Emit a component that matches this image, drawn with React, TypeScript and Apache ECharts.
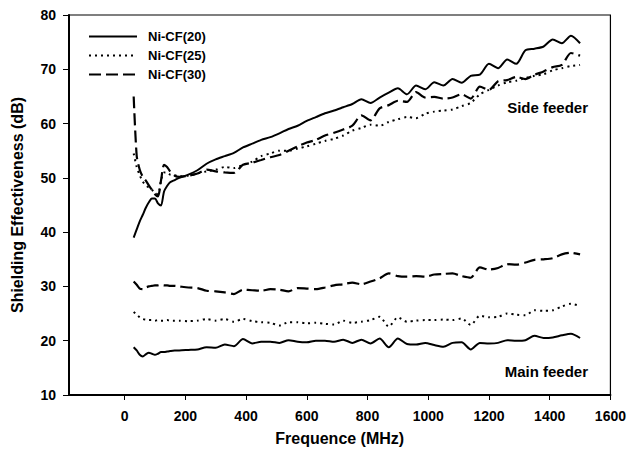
import React, { useEffect, useRef } from "react";
import * as echarts from "echarts";

const freqs = [
  30, 40, 50, 60, 70, 80, 90, 100, 110, 120, 130, 140, 150, 165,
  180, 210, 240, 270, 300, 330, 360, 390, 420, 450, 480, 510, 540, 570, 600,
  630, 660, 690, 720, 750, 780, 810, 840, 870, 900, 930, 960, 990, 1020, 1050,
  1080, 1110, 1140, 1170, 1200, 1230, 1260, 1290, 1320, 1350, 1380, 1410, 1440,
  1470, 1500,
];

// Side feeder
const side20 = [
  39.0, 40.5, 42.0, 43.2, 44.5, 45.5, 46.2, 46.2, 45.3, 44.9, 47.5, 48.5, 49.2, 49.6,
  50.0, 50.6, 51.4, 52.6, 53.4, 54.0, 54.6, 55.6, 56.3, 57.0, 57.5, 58.2, 59.0, 59.6, 60.5,
  61.2, 61.9, 62.4, 63.0, 63.6, 64.5, 63.8, 64.8, 65.7, 66.5, 65.4, 67.0, 66.3, 67.6, 67.0,
  68.2, 67.5, 68.8, 69.0, 71.0, 70.2, 71.8, 71.0, 73.5, 73.8, 74.2, 75.5, 74.8,
  76.2, 74.8,
];
const side25 = [
  54.5, 52.0, 50.5, 49.3, 48.6, 48.2, 47.8, 47.2, 47.0, 49.5, 51.0, 51.0, 50.6, 50.5,
  50.3, 50.4, 50.8, 51.2, 51.5, 52.0, 51.8, 52.4, 53.0, 54.0, 54.5, 55.0, 55.0, 55.4, 55.8,
  56.3, 56.8, 57.2, 57.8, 58.7, 59.2, 59.8, 59.6, 60.3, 60.8, 61.2, 61.0, 61.8, 62.2, 62.4,
  62.6, 63.2, 63.8, 65.4, 66.2, 67.0, 67.6, 67.9, 68.4, 68.8, 69.1, 69.8, 70.2,
  70.6, 70.8,
];
const side30 = [
  65.0, 54.0, 51.5, 50.2, 49.5, 48.6, 47.8, 47.0, 46.6, 49.5, 52.4, 52.0, 51.2, 50.4,
  50.2, 50.4, 50.8, 51.5, 51.2, 51.0, 50.9, 52.4, 52.8, 53.3, 53.8, 54.2, 55.0, 55.8, 56.5,
  57.0, 57.8, 58.3, 58.9, 59.6, 61.5, 60.6, 62.8, 63.4, 64.2, 64.0, 65.8, 64.8, 64.9, 64.6,
  64.8, 65.4, 64.6, 66.8, 66.2, 67.8, 68.0, 68.6, 68.2, 69.0, 69.6, 70.4, 70.8,
  73.0, 72.5,
];

// Main feeder
const main20 = [
  18.8, 18.2, 17.4, 17.1, 17.5, 17.8, 17.6, 17.4, 17.6, 17.9, 17.9, 18.0, 18.1, 18.2,
  18.2, 18.3, 18.4, 18.8, 18.7, 19.3, 19.0, 20.3, 19.5, 19.8, 19.8, 19.6, 20.1, 19.8, 19.7,
  20.0, 20.0, 19.8, 20.2, 19.6, 20.2, 19.5, 20.4, 18.8, 20.4, 19.4, 19.3, 19.6, 19.2, 18.9,
  19.6, 19.7, 18.4, 19.6, 19.5, 19.6, 20.1, 20.0, 20.1, 20.9, 20.5, 20.6, 21.0,
  21.3, 20.5,
];
const main25 = [
  25.3, 24.8, 24.3, 24.0, 23.9, 23.8, 23.8, 23.7, 23.8, 23.7, 23.7, 23.8, 23.7, 23.7,
  23.7, 23.6, 23.7, 24.0, 23.7, 24.0, 23.5, 24.0, 23.6, 23.4, 23.3, 22.8, 23.4, 23.4, 23.2,
  23.3, 23.1, 23.0, 23.7, 23.3, 23.5, 23.8, 24.4, 22.6, 24.3, 23.5, 23.7, 23.8, 23.8, 23.9,
  23.8, 24.1, 22.9, 24.6, 24.3, 24.4, 25.0, 24.8, 24.7, 25.6, 25.5, 25.6, 26.3,
  26.8, 26.4,
];
const main30 = [
  30.9, 30.3, 29.6, 29.5, 29.8, 30.0, 30.1, 30.2, 30.2, 30.3, 30.2, 30.2, 30.1, 30.1,
  30.0, 29.8, 29.7, 29.2, 29.1, 28.9, 28.6, 29.4, 29.3, 29.2, 29.5, 29.4, 29.1, 29.7, 29.6,
  29.5, 29.8, 30.2, 30.4, 30.7, 30.4, 30.9, 31.5, 32.4, 31.9, 31.8, 31.9, 31.8, 32.2, 32.3,
  32.4, 31.9, 31.6, 33.5, 33.1, 33.4, 34.1, 34.0, 34.4, 34.9, 35.0, 35.2, 35.9,
  36.2, 35.9,
];

const seriesNames = ["Ni-CF(20)", "Ni-CF(25)", "Ni-CF(30)"];
const xTicks = [0, 200, 400, 600, 800, 1000, 1200, 1400, 1600];

const FONT = "Liberation Sans, Arial, Helvetica, sans-serif";

export default function App() {
  const ref = useRef<HTMLDivElement>(null);
  useEffect(() => {
    if (!ref.current) return;
    const chart = echarts.init(ref.current, undefined, { renderer: "svg" });
    const pair = (ys: number[]) => freqs.map((f, i) => [f, ys[i]]);
    const styles: any[] = [
      { color: "#000", width: 2, type: "solid" },
      { color: "#000", width: 2, type: [2, 4] },
      { color: "#000", width: 2.2, type: [12, 5] },
    ];
    const sets = [
      [side20, main20],
      [side25, main25],
      [side30, main30],
    ];
    const series: any[] = [];
    sets.forEach((pairSet, k) => {
      pairSet.forEach((ys) => {
        series.push({
          name: seriesNames[k],
          type: "line",
          data: pair(ys),
          symbol: "none",
          smooth: 0.25,
          lineStyle: styles[k],
          itemStyle: { color: "#000" },
          z: 3 - k,
        });
      });
    });
    chart.setOption({
      animation: false,
      backgroundColor: "#fff",
      grid: {
        left: 69,
        top: 15,
        width: 543,
        height: 380,
        show: true,
        borderColor: "#000",
        borderWidth: 1.2,
        backgroundColor: "transparent",
      },
      legend: {
        data: seriesNames,
        orient: "vertical",
        left: 83,
        top: 25,
        itemWidth: 48,
        itemHeight: 12,
        itemGap: 6,
        selectedMode: false,
        itemStyle: { opacity: 0 },
        textStyle: {
          fontFamily: FONT,
          fontSize: 13,
          fontWeight: "bold",
          color: "#000",
          padding: [0, 0, 0, 6],
        },
      },
      xAxis: {
        type: "value",
        min: -183,
        max: 1600,
        name: "Frequence (MHz)",
        nameLocation: "middle",
        nameGap: 35,
        nameTextStyle: { fontFamily: FONT, fontSize: 16, fontWeight: "bold", color: "#000" },
        axisLine: { show: true, onZero: false, lineStyle: { color: "#000", width: 2 } },
        axisTick: { show: true, inside: false, length: 5, customValues: xTicks, lineStyle: { color: "#000", width: 1 } },
        axisLabel: {
          customValues: xTicks,
          margin: 14,
          formatter: (v: number) => String(v),
          fontFamily: FONT,
          fontSize: 14,
          fontWeight: "bold",
          color: "#000",
        },
        splitLine: { show: false },
      },
      yAxis: {
        type: "value",
        min: 10,
        max: 80,
        interval: 10,
        name: "Shielding Effectiveness (dB)",
        nameLocation: "middle",
        nameGap: 44,
        nameTextStyle: { fontFamily: FONT, fontSize: 16, fontWeight: "bold", color: "#000" },
        axisLine: { show: true, onZero: false, lineStyle: { color: "#000", width: 2 } },
        axisTick: { show: true, inside: false, length: 6, lineStyle: { color: "#000", width: 1 } },
        axisLabel: {
          margin: 13,
          fontFamily: FONT,
          fontSize: 14,
          fontWeight: "bold",
          color: "#000",
        },
        splitLine: { show: false },
      },
      graphic: [
        {
          type: "text",
          right: 629 - 588,
          top: 100,
          style: { text: "Side feeder", font: `bold 15px ${FONT}`, fill: "#000" },
        },
        {
          type: "text",
          right: 629 - 588,
          top: 364,
          style: { text: "Main feeder", font: `bold 15px ${FONT}`, fill: "#000" },
        },
      ],
      series,
    });
    return () => chart.dispose();
  }, []);
  return (
    <div
      ref={ref}
      style={{ position: "fixed", left: 0, top: 0, width: 629, height: 463, background: "#fff" }}
    />
  );
}
